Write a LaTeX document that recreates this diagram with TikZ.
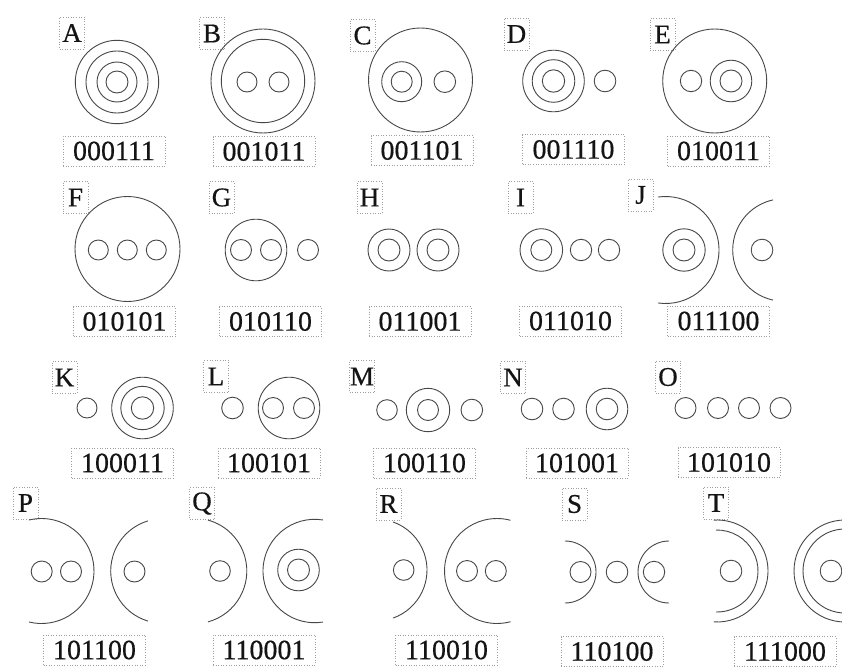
\documentclass[tikz,border=0pt]{standalone}
\usepackage{fontspec}
\setmainfont{Liberation Serif}
\newfontfamily\codefont{Liberation Serif}[FakeBold=0.5]
\newcommand\cir[3]{\draw[ln] (#1,#2) circle[radius=#3];}
% ")" shaped arc: centre, radius, half-angle measured from 0
\newcommand\rarc[4]{\draw[ln] (#1,#2) ++(#4:#3) arc[start angle=#4, end angle=-#4, radius=#3];}
% "(" shaped arc: centre, radius, half-angle measured from 180
\newcommand\larc[4]{\draw[ln] (#1,#2) ++({180-#4}:#3) arc[start angle={180-#4}, end angle={180+#4}, radius=#3];}
\begin{document}
\begin{tikzpicture}[x=1pt,y=-1pt,
  ln/.style={draw=black!72, line width=0.9pt},
  lbl/.style={draw=black!38, dotted, line width=0.6pt, minimum width=25pt, minimum height=32pt, inner sep=0pt, font=\codefont\fontsize{27}{27}\selectfont, text=black!92},
  code/.style={draw=black!38, dotted, line width=0.6pt, minimum width=102pt, minimum height=30pt, inner sep=0pt, font=\codefont\fontsize{28}{28}\selectfont, text=black!92}]
\useasboundingbox[fill=white] (0,0) rectangle (842,666);
\begin{scope}
\clip (0,0) rectangle (842,666);
% ---------- Row 1 ----------
\node[lbl] (lA) at (72,33) {A};
\cir{117}{82}{41.7}\cir{117}{82}{31}\cir{117}{82}{20}\cir{117}{82}{11}
\node[code] (cA) at (114,151) {000111};

\node[lbl] (lB) at (212,33.5) {B};
\cir{263}{81}{52}\cir{263}{81}{41.7}\cir{247}{82}{10}\cir{279}{82}{10}
\node[code] (cB) at (264,151.5) {001011};

\node[lbl] (lC) at (362.5,35.5) {C};
\cir{420.5}{80}{52}\cir{401.7}{81.7}{20}\cir{401.7}{81.7}{10.5}\cir{444.8}{81.7}{10.8}
\node[code] (cC) at (422,150.5) {001101};

\node[lbl] (lD) at (516.5,34) {D};
\cir{553.5}{81}{30.8}\cir{553.5}{81}{21.3}\cir{553.5}{81}{11.2}\cir{605}{81}{10.8}
\node[code] (cD) at (573.5,149.5) {001110};

\node[lbl] (lE) at (662.5,34.5) {E};
\cir{714.7}{81}{52}\cir{691}{81}{10.7}\cir{731}{81}{20.8}\cir{731}{81}{11}
\node[code] (cE) at (718.5,151) {010011};

% ---------- Row 2 ----------
\node[lbl] (lF) at (75.5,197.5) {F};
\cir{127.5}{249}{52.5}\cir{98.3}{250}{10}\cir{127.3}{250}{10}\cir{156.3}{250}{10}
\node[code] (cF) at (124.5,321.5) {010101};

\node[lbl] (lG) at (221.5,197.5) {G};
\cir{256}{250}{30.8}\cir{241}{250}{10.5}\cir{271}{250}{10.5}\cir{308}{250}{10.5}
\node[code] (cG) at (270.5,321.5) {010110};

\node[lbl] (lH) at (369.5,197.5) {H};
\cir{389}{250}{21}\cir{389}{250}{11}\cir{438}{250}{21}\cir{438}{250}{11}
\node[code] (cH) at (420,321.5) {011001};

\node[lbl] (lI) at (520.5,197.5) {I};
\cir{541.3}{250}{21.3}\cir{541.3}{250}{10.5}\cir{581}{250}{10.7}\cir{609}{250}{10.7}
\node[code] (cI) at (570.5,321) {011010};

\node[lbl] (lJ) at (640.5,195) {J};
\rarc{665.5}{250}{53.5}{98}
\cir{684}{250}{21.2}\cir{684}{250}{11}
\larc{784}{250}{51.3}{77.6}
\cir{762}{250}{10.8}
\node[code] (cJ) at (718.5,321) {011100};

% ---------- Row 3 ----------
\node[lbl] (lK) at (64.5,377.5) {K};
\cir{87}{408}{10}\cir{142.5}{408}{30.8}\cir{142.5}{408}{21.7}\cir{142.5}{408}{11.2}
\node[code] (cK) at (122.5,463) {100011};

\node[lbl] (lL) at (216,376.5) {L};
\cir{232.5}{408}{10.8}\cir{289}{408}{30.8}\cir{273}{408}{10.5}\cir{304}{408}{10.5}
\node[code] (cL) at (269,463) {100101};

\node[lbl] (lM) at (362,376.5) {M};
\cir{387}{410}{10.3}\cir{428}{410}{21.7}\cir{428}{410}{10.5}\cir{471.8}{410}{10.8}
\node[code] (cM) at (424.5,463) {100110};

\node[lbl] (lN) at (513,377.5) {N};
\cir{532}{409}{10.8}\cir{563.5}{409}{10.8}\cir{607}{409}{20.8}\cir{607}{409}{10.8}
\node[code] (cN) at (577,463) {101001};

\node[lbl] (lO) at (668,377) {O};
\cir{685.5}{408}{10.5}\cir{718}{408}{10.5}\cir{749}{408}{10.5}\cir{780.5}{408}{10.5}
\node[code] (cO) at (729,462.5) {101010};

% ---------- Row 4 ----------
\node[lbl] (lP) at (25.5,503) {P};
\rarc{41.5}{571}{52.5}{103.8}
\cir{41.7}{571.5}{10.5}\cir{71}{571.5}{10.5}
\larc{163}{571}{52.3}{73.3}
\cir{134.5}{571.5}{10.5}
\node[code] (cP) at (94.5,650) {101100};

\node[lbl] (lQ) at (202,503.5) {Q};
\rarc{194}{571}{52.8}{74.6}
\cir{220}{571}{10.3}
\larc{314.7}{571}{51.7}{99.2}
\cir{298.5}{570}{20.8}\cir{298.5}{570}{11}
\node[code] (cQ) at (264,650) {110001};

\node[lbl] (lR) at (388.5,504) {R};
\rarc{376}{570}{51}{70.5}
\cir{403.7}{570}{10.3}
\larc{497}{571}{52.5}{104.9}
\cir{467}{571}{10.5}\cir{495.8}{571}{10.5}
\node[code] (cR) at (446.5,650) {110010};

\node[lbl] (lS) at (574.5,504) {S};
\rarc{565}{572}{31}{90}
\cir{580.5}{572}{10.5}\cir{617}{572}{10.8}
\larc{669}{572}{31}{90}
\cir{654}{572}{10.7}
\node[code] (cS) at (612,651.5) {110100};

\node[lbl] (lT) at (716,503) {T};
\rarc{717}{571}{51}{93.4}
\rarc{717}{571}{41}{91.4}
\cir{731}{571}{10.8}
\cir{845}{571}{51}\cir{845}{571}{42}\cir{831}{571}{10.8}
\node[code] (cT) at (785,651.5) {111000};
\end{scope}
\end{tikzpicture}
\end{document}
